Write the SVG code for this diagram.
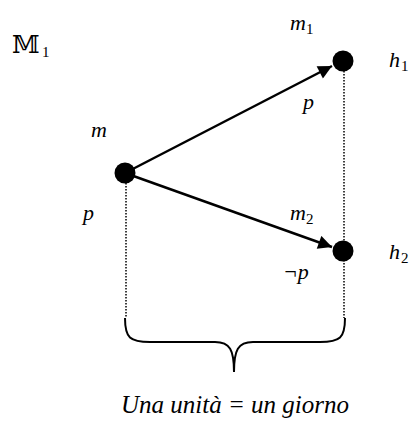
<svg xmlns="http://www.w3.org/2000/svg" width="413" height="425" viewBox="0 0 413 425">
<style>
.t{font-family:"Liberation Serif","Times New Roman",serif;font-style:italic;font-size:22px;fill:#000}
.s{font-family:"Liberation Serif","Times New Roman",serif;font-style:normal;font-size:15px;fill:#000}
.cap{font-family:"Liberation Serif","Times New Roman",serif;font-style:italic;font-size:25px;fill:#000}
.dot{fill:#000}
.arr{stroke:#000;stroke-width:2.5;fill:none}
.dash{stroke:#000;stroke-width:1.5;stroke-dasharray:1.5 1.5;fill:none}
.brace{stroke:#000;stroke-width:2;fill:none}
</style>
<defs>
<marker id="ah" viewBox="0 0 10 10" refX="10" refY="5" markerWidth="7" markerHeight="5.5" markerUnits="strokeWidth" orient="auto">
<path d="M0,0 L10,5 L0,10 z" fill="#000"/>
</marker>
</defs>
<text x="12" y="53" style="font-family:'DejaVu Serif','DejaVu Sans',serif;font-size:25px">𝕄</text>
<text x="42" y="57" class="s">1</text>
<g id="connectors">
<line class="dash" x1="126" y1="183" x2="126" y2="318"/>
<line class="dash" x1="344" y1="71" x2="344" y2="318"/>
<line class="arr" x1="125" y1="173" x2="332" y2="66" marker-end="url(#ah)"/>
<line class="arr" x1="125" y1="173" x2="332" y2="247" marker-end="url(#ah)"/>
<path class="brace" d="M125,318 C125,338 130,342 150,342 L215,342 C230,342 234,350 234,372 C234,350 238,342 253,342 L320,342 C340,342 345,338 345,318"/>
</g>
<g id="node-m">
<circle class="dot" cx="125" cy="173" r="10.5"/>
<text class="t" x="91" y="137">m</text>
<text class="t" x="83" y="220">p</text>
</g>
<g id="node-m1">
<circle class="dot" cx="343" cy="61" r="10.5"/>
<text class="t" x="290" y="30">m</text>
<text class="s" x="306" y="34">1</text>
<text class="t" x="389" y="67">h</text>
<text class="s" x="401" y="71">1</text>
<text class="t" x="303" y="109">p</text>
</g>
<g id="node-m2">
<circle class="dot" cx="343" cy="251" r="10.5"/>
<text class="t" x="290" y="220">m</text>
<text class="s" x="306" y="224">2</text>
<text class="t" x="389" y="259">h</text>
<text class="s" x="401" y="263">2</text>
<text class="t" x="283" y="279">¬p</text>
</g>
<text class="cap" x="121" y="413">Una unità = un giorno</text>
</svg>
